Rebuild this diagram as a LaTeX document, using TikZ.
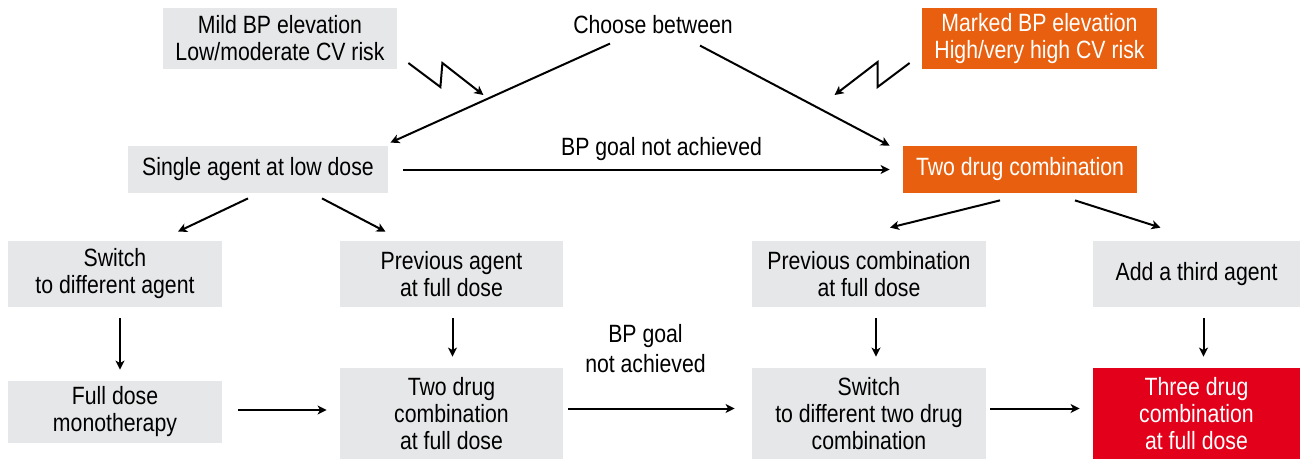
\documentclass[tikz,border=0pt]{standalone}
\usepackage{fontspec}
\setmainfont{Liberation Sans}[FakeStretch=0.85]
\usepackage{xcolor}
\usetikzlibrary{arrows.meta}
\definecolor{boxgray}{HTML}{E6E7E8}
\definecolor{markorange}{HTML}{E8600F}
\definecolor{threered}{HTML}{E2001A}
\begin{document}
\begin{tikzpicture}[
  x=0.5pt, y=-0.5pt,
  every node/.style={font=\fontsize{12.5pt}{13.5pt}\selectfont, align=center, inner sep=0pt},
  box/.style={fill=boxgray, text=black},
  hot/.style={fill=markorange, text=white},
  top/.style={fill=threered, text=white},
  arr/.style={-{Stealth[length=4.5pt, width=4.5pt, inset=1.2pt]}, line width=1pt}
]
\useasboundingbox (0,0) rectangle (1306,461);

% risk boxes and choice
\node[box, minimum width=117pt, minimum height=30.5pt] (mild) at (280,38.5) {Mild BP elevation\\Low/moderate CV risk};
\node[hot, minimum width=117.5pt, minimum height=30.5pt] (marked) at (1039.5,38.5) {Marked BP elevation\\High/very high CV risk};
\node (choose) at (653,25) {Choose between};

% first step
\node[box, minimum width=130pt, minimum height=23.5pt] (single) at (258,169.5) {Single agent at low dose};
\node[hot, minimum width=117pt, minimum height=23.5pt] (twodrug) at (1020,169.5) {Two drug combination};

% second step
\node[box, minimum width=107pt, minimum height=33pt] (switch) at (115,274) {Switch\\to different agent};
\node[box, minimum width=111.5pt, minimum height=33pt] (prevagent) at (451.5,274) {Previous agent\\at full dose};
\node[box, minimum width=117pt, minimum height=33pt] (prevcomb) at (869,274) {Previous combination\\at full dose};
\node[box, minimum width=103.5pt, minimum height=33pt] (third) at (1196.5,274) {Add a third agent};

% third step
\node[box, minimum width=107pt, minimum height=31pt] (fulldose) at (115,412) {Full dose\\monotherapy};
\node[box, minimum width=111.5pt, minimum height=45.5pt] (twofull) at (451.5,413.5) {Two drug\\combination\\at full dose};
\node[box, minimum width=117pt, minimum height=45.5pt] (switchtwo) at (869,413.5) {Switch\\to different two drug\\combination};
\node[top, minimum width=103.5pt, minimum height=45.5pt] (threefull) at (1196.5,413.5) {Three drug\\combination\\at full dose};

% zigzag arrows
\draw[arr] ([shift={(11,24.5)}]mild.east) -- ++(32,24) -- ++(2,-24) -- ++(41,32);
\draw[arr] ([shift={(-12,24.5)}]marked.west) -- ++(-32,24) -- ++(0,-25) -- ++(-43,33);

% choice arrows
\draw[arr] ([shift={(-43,9)}]choose.south) -- ([shift={(2,-3)}]single.north east);
\draw[arr] ([shift={(47,11)}]choose.south) -- ([shift={(-13,0)}]twodrug.north west);

\draw[arr, shorten <=7.5pt, shorten >=6.5pt] (single.east) -- node[above=4pt, xshift=8pt] {BP goal not achieved} (single.east -| twodrug.west);

\draw[arr] ([shift={(-10,5)}]single.south) -- ([shift={(63,-9)}]switch.north);
\draw[arr] ([shift={(64,5)}]single.south) -- ([shift={(-66,-9)}]prevagent.north);
\draw[arr] ([shift={(-20,7)}]twodrug.south) -- ([shift={(21,-13)}]prevcomb.north);
\draw[arr] ([shift={(55,7)}]twodrug.south) -- ([shift={(-36,-13)}]third.north);

% vertical arrows
\draw[arr, shorten <=5.5pt, shorten >=5.5pt] ([xshift=2.5pt]switch.south) -- ([xshift=2.5pt]fulldose.north);
\draw[arr, shorten <=5.5pt, shorten >=5.5pt] ([xshift=0.5pt]prevagent.south) -- ([xshift=0.5pt]twofull.north);
\draw[arr, shorten <=5.5pt, shorten >=5.5pt] ([xshift=3.5pt]prevcomb.south) -- ([xshift=3.5pt]switchtwo.north);
\draw[arr, shorten <=5.5pt, shorten >=5.5pt] ([xshift=3.5pt]third.south) -- ([xshift=3.5pt]threefull.north);

% bottom row
\draw[arr, shorten <=8pt, shorten >=6.5pt] ([yshift=1pt]fulldose.east) -- ([yshift=1pt]fulldose.east -| twofull.west);
\draw[arr, shorten <=2.5pt, shorten >=8.5pt] ([yshift=2.5pt]twofull.east) -- node[above=17.5pt, xshift=-6pt, font=\fontsize{12.5pt}{15pt}\selectfont] {BP goal\\not achieved} ([yshift=2.5pt]twofull.east -| switchtwo.west);
\draw[arr, shorten <=2pt, shorten >=6.5pt] ([yshift=2.5pt]switchtwo.east) -- ([yshift=2.5pt]switchtwo.east -| threefull.west);
\end{tikzpicture}
\end{document}
